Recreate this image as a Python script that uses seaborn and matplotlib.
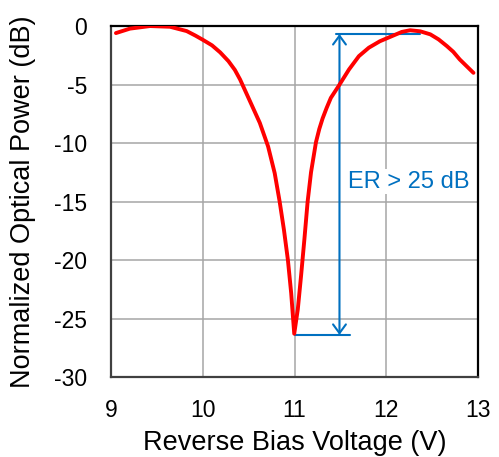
import matplotlib
matplotlib.use("Agg")
import matplotlib.pyplot as plt
import seaborn as sns
import pandas as pd

# Data
voltage = [9.054, 9.207, 9.425, 9.643, 9.825, 9.921, 10.006, 10.101, 10.19, 10.28,
           10.35, 10.407, 10.515, 10.622, 10.712, 10.784, 10.838, 10.885, 10.928,
           10.964, 10.997, 11.036, 11.072, 11.108, 11.143, 11.18, 11.234, 11.27,
           11.306, 11.35, 11.396, 11.486, 11.594, 11.702, 11.81, 11.93, 12.08, 12.17,
           12.26, 12.37, 12.48, 12.57, 12.66, 12.73, 12.80, 12.95]
power = [-0.6, -0.22, 0.0, -0.06, -0.43, -0.82, -1.2, -1.65, -2.25, -3.0,
         -3.75, -4.57, -6.43, -8.28, -10.29, -12.57, -15.0, -17.43, -20.0,
         -22.85, -26.3, -24.2, -21.3, -18.2, -15.0, -12.5, -9.92, -8.8,
         -7.9, -7.0, -6.14, -5.06, -3.71, -2.57, -1.85, -1.3, -0.8, -0.5,
         -0.36, -0.45, -0.71, -1.14, -1.71, -2.2, -2.85, -4.0]
x_ticks = [9, 10, 11, 12, 13]
y_ticks = [-30, -25, -20, -15, -10, -5, 0]
er_top = -0.68
er_bottom = -26.4
er_x = 11.49
er_top_span = [11.45, 12.37]
er_bottom_span = [11.0, 11.6]
er_label = "ER > 25 dB"

df = pd.DataFrame({"Reverse Bias Voltage (V)": voltage,
                   "Normalized Optical Power (dB)": power})

sns.set_style("white")
plt.rcParams["font.family"] = ["Liberation Sans", "DejaVu Sans"]
plt.rcParams["axes.unicode_minus"] = False
plt.rcParams["text.color"] = "black"
plt.rcParams["axes.labelcolor"] = "black"

fig = plt.figure(figsize=(4.99, 4.57), dpi=100)
ax = fig.add_axes([0.2224, 0.175, 0.7356, 0.768])

RED = "#FF0000"
BLUE = "#0070C0"

sns.lineplot(data=df, x="Reverse Bias Voltage (V)", y="Normalized Optical Power (dB)",
             sort=False, estimator=None, color=RED, lw=2.8, ax=ax, zorder=3)
ax.lines[0].set_solid_joinstyle("round")

ax.set_xlim(9, 13)
ax.set_ylim(-30, 0)
ax.set_xticks(x_ticks)
ax.set_yticks(y_ticks)
ax.tick_params(axis="y", length=0, labelsize=16.5, pad=17, colors="black")
ax.tick_params(axis="x", length=0, labelsize=16.5, pad=16, colors="black")
ax.grid(True, color="#A6A6A6", lw=1.1)
ax.set_axisbelow(True)
for side in ["left", "bottom"]:
    ax.spines[side].set_color("#404040")
    ax.spines[side].set_linewidth(1.6)
for side in ["top", "right"]:
    ax.spines[side].set_color("black")
    ax.spines[side].set_linewidth(1.6)

ax.set_xlabel("Reverse Bias Voltage (V)", fontsize=19.5)
ax.set_ylabel("Normalized Optical Power (dB)", fontsize=19.5)
ax.xaxis.set_label_coords(0.5, -0.15)
ax.yaxis.set_label_coords(-0.205, 0.5)

# Extinction-ratio annotation
ax.plot(er_top_span, [er_top, er_top], color=BLUE, lw=1.5, zorder=2)
ax.plot(er_bottom_span, [er_bottom, er_bottom], color=BLUE, lw=1.5, zorder=2)
ax.annotate("", xy=(er_x, er_top), xytext=(er_x, er_bottom),
            arrowprops=dict(arrowstyle="<->,head_length=0.45,head_width=0.33",
                            color=BLUE, lw=1.5, shrinkA=0, shrinkB=0,
                            mutation_scale=14), zorder=2)
ax.text(11.58, -13.3, er_label, color=BLUE, fontsize=17, ha="left", va="center",
        zorder=4, bbox=dict(facecolor="white", edgecolor="none", pad=1))

fig.savefig("out.png", dpi=100)
